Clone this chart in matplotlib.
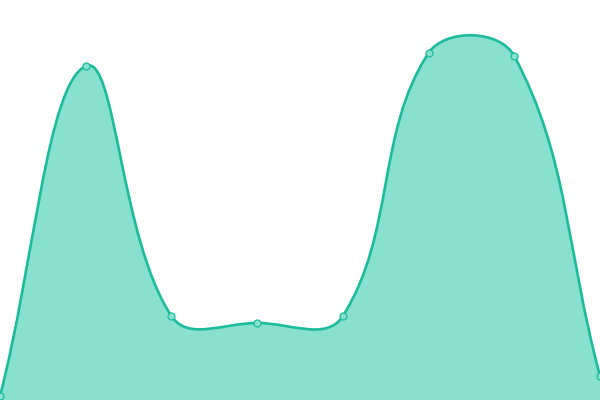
import numpy as np
import matplotlib
matplotlib.use("Agg")
import matplotlib.pyplot as plt
from matplotlib.path import Path
from matplotlib.patches import PathPatch

# data (index, value)
idx = np.arange(8)
values = np.array([4, 334, 84, 77, 84, 347, 344, 24])

line_color = "#1abc9c"
fill_color = "#89e0cf"
tension = 0.4

fig = plt.figure(figsize=(6, 4), dpi=100)
ax = fig.add_axes([0, 0, 1, 1])
ax.set_xlim(0, 7)
ax.set_ylim(0, 400)
ax.axis("off")

# pixel scale factors so the spline behaves like a canvas spline
sx = 600 / 7.0
sy = 400 / 400.0
px = idx * sx
py = values * sy

n = len(px)
cps = []
for i in range(n):
    p0 = (px[max(i - 1, 0)], py[max(i - 1, 0)])
    p1 = (px[i], py[i])
    p2 = (px[min(i + 1, n - 1)], py[min(i + 1, n - 1)])
    d01 = np.hypot(p1[0] - p0[0], p1[1] - p0[1])
    d12 = np.hypot(p2[0] - p1[0], p2[1] - p1[1])
    tot = d01 + d12
    s01 = d01 / tot if tot else 0
    s12 = d12 / tot if tot else 0
    fa = tension * s01
    fb = tension * s12
    prev_cp = (p1[0] - fa * (p2[0] - p0[0]), p1[1] - fa * (p2[1] - p0[1]))
    next_cp = (p1[0] + fb * (p2[0] - p0[0]), p1[1] + fb * (p2[1] - p0[1]))
    # keep control points inside the area
    prev_cp = (min(max(prev_cp[0], 0), 600), min(max(prev_cp[1], 0), 400))
    next_cp = (min(max(next_cp[0], 0), 600), min(max(next_cp[1], 0), 400))
    cps.append((prev_cp, next_cp))

verts = [(px[0] / sx, py[0] / sy)]
codes = [Path.MOVETO]
for i in range(n - 1):
    c1 = cps[i][1]
    c2 = cps[i + 1][0]
    verts += [(c1[0] / sx, c1[1] / sy), (c2[0] / sx, c2[1] / sy),
              (px[i + 1] / sx, py[i + 1] / sy)]
    codes += [Path.CURVE4] * 3

line_path = Path(verts, codes)
fill_path = Path(verts + [(idx[-1], 0), (idx[0], 0), verts[0]],
                 codes + [Path.LINETO, Path.LINETO, Path.CLOSEPOLY])

ax.add_patch(PathPatch(fill_path, facecolor=fill_color, edgecolor="none"))
ax.add_patch(PathPatch(line_path, facecolor="none", edgecolor=line_color,
                       linewidth=1.9))
ax.plot(idx, values, "o", markersize=5, markerfacecolor=fill_color,
        markeredgecolor=line_color, markeredgewidth=0.9)

fig.savefig("out.png", dpi=100)
